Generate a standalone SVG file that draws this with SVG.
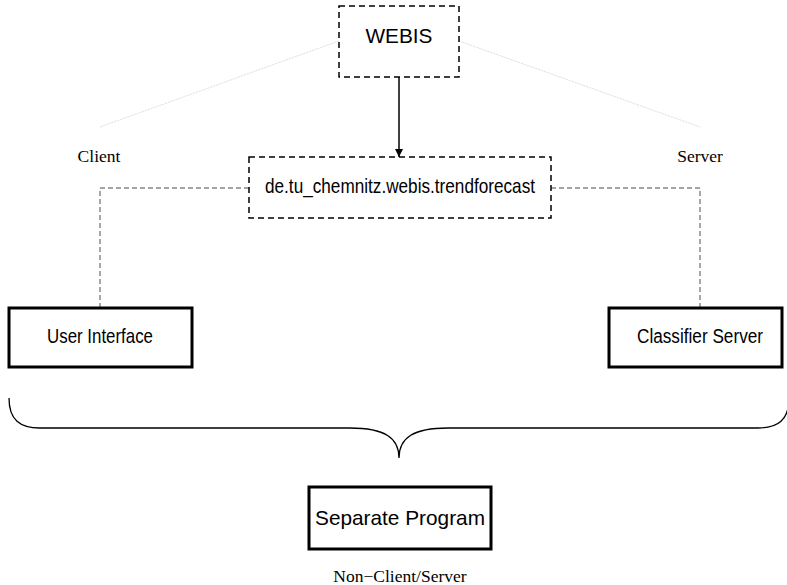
<svg xmlns="http://www.w3.org/2000/svg" width="787" height="585" viewBox="0 0 787 585">
<style>
.dbox{fill:#fff;stroke:#000;stroke-width:1.5;stroke-dasharray:6,4}
.sbox{fill:#fff;stroke:#000;stroke-width:3}
.lbl{font-family:"Liberation Sans",Arial,sans-serif;font-size:21px;fill:#000;text-anchor:middle}
.ser{font-family:"Liberation Serif","Times New Roman",serif;font-size:17.5px;fill:#000;text-anchor:middle}
.gdash{fill:none;stroke:#888;stroke-width:1.5;stroke-dasharray:5,3}
.faint{fill:none;stroke:#ddd;stroke-width:1;stroke-dasharray:2,1}
</style>
<defs>
<marker id="arr" viewBox="0 0 10 10" refX="10" refY="5" markerWidth="8" markerHeight="8" markerUnits="userSpaceOnUse" orient="auto">
<path d="M0,0 L10,5 L0,10 z" fill="#000"/>
</marker>
</defs>
<g id="connectors">
<line class="faint" x1="339" y1="41" x2="100" y2="127"/>
<line class="faint" x1="459" y1="41" x2="700" y2="127"/>
<line x1="399" y1="77" x2="399" y2="157" stroke="#000" stroke-width="1.5" marker-end="url(#arr)"/>
<path class="gdash" d="M249,188 H100 V308"/>
<path class="gdash" d="M551,188 H700 V308"/>
<path d="M9,398 C9,420 20,428 40,428 L350,428 C385,428 399,438 399,458 C399,438 413,428 448,428 L758,428 C778,428 789,420 789,398" fill="none" stroke="#000" stroke-width="1.3"/>
</g>
<g id="webis">
<rect class="dbox" x="339" y="6" width="120" height="71"/>
<text class="lbl" x="399" y="43" textLength="67" lengthAdjust="spacingAndGlyphs">WEBIS</text>
</g>
<g id="trendforecast">
<rect class="dbox" x="249" y="157" width="302" height="61"/>
<text class="lbl" x="400" y="193" textLength="270" lengthAdjust="spacingAndGlyphs">de.tu_chemnitz.webis.trendforecast</text>
</g>
<g id="client-label"><text class="ser" x="99" y="162">Client</text></g>
<g id="server-label"><text class="ser" x="700" y="162">Server</text></g>
<g id="user-interface">
<rect class="sbox" x="9" y="308" width="183" height="59"/>
<text class="lbl" x="100" y="343" textLength="106" lengthAdjust="spacingAndGlyphs">User Interface</text>
</g>
<g id="classifier-server">
<rect class="sbox" x="609" y="308" width="173" height="59"/>
<text class="lbl" x="700" y="343" style="font-size:20px" textLength="126" lengthAdjust="spacingAndGlyphs">Classifier Server</text>
</g>
<g id="separate-program">
<rect class="sbox" x="309" y="487" width="182" height="62"/>
<text class="lbl" x="400" y="525" textLength="170" lengthAdjust="spacingAndGlyphs">Separate Program</text>
</g>
<g id="non-client-label"><text class="ser" x="400" y="582">Non−Client/Server</text></g>
</svg>
